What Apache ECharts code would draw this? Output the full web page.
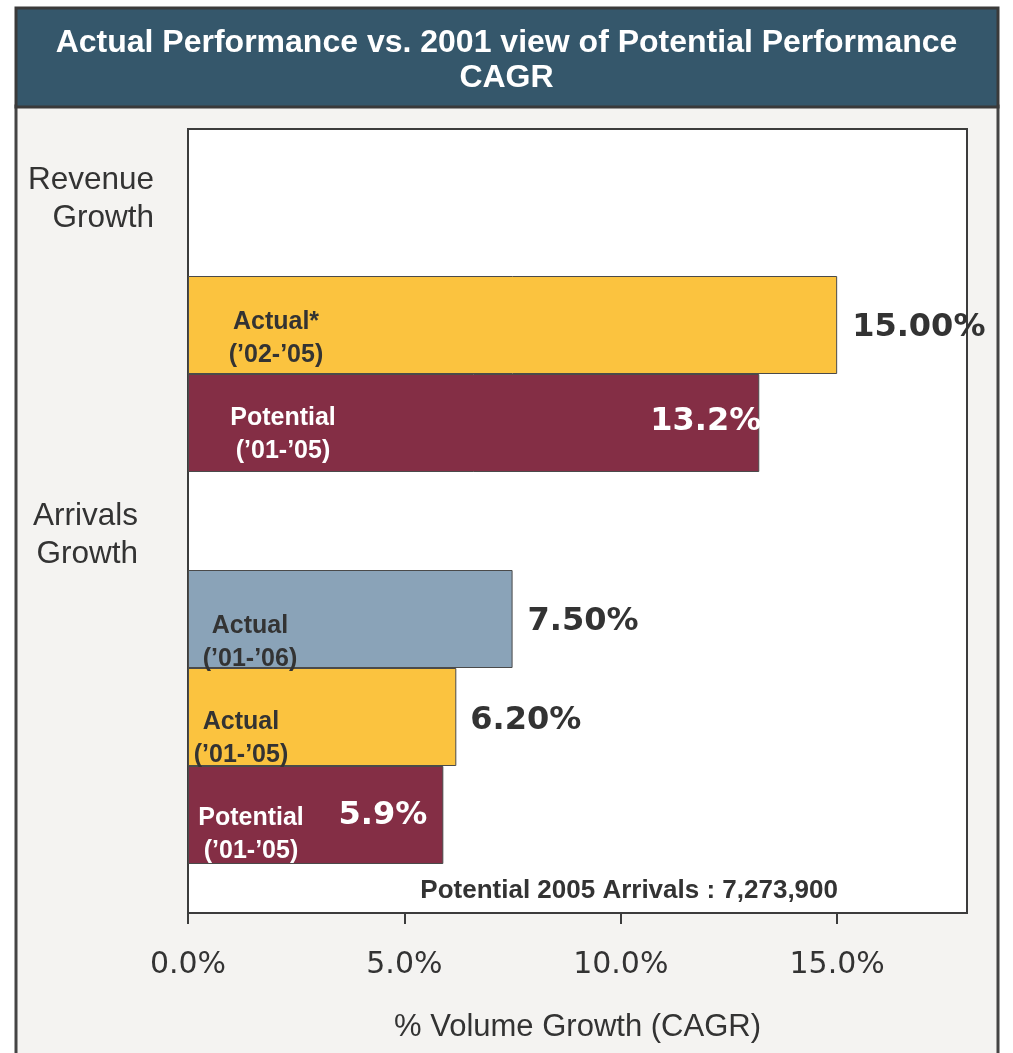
<!DOCTYPE html>
<html>
<head>
<meta charset="utf-8">
<script src="https://cdn.jsdelivr.net/npm/echarts@6/dist/echarts.min.js"></script>
<style>
  html, body { margin: 0; padding: 0; background: #ffffff; overflow: hidden; }
  #chart { width: 1013px; height: 1053px; }
</style>
</head>
<body>
<div id="chart"></div>
<script>
// Category slots down the value axis (top to bottom); empty slots hold the group headings and gaps
const slots = ['Revenue Growth', 'rev-gap', 'Revenue Actual', 'Revenue Potential', 'Arrivals Growth',
  'Arrivals Actual 01-06', 'Arrivals Actual 01-05', 'Arrivals Potential', 'end'];
// Bar names drawn inside each bar
const barNames = [null, null, 'Actual*\n(’02-’05)', 'Potential\n(’01-’05)', null,
  'Actual\n(’01-’06)', 'Actual\n(’01-’05)', 'Potential\n(’01-’05)', null];
// CAGR values in percent
const growthValues = [null, null, 15.00, 13.2, null, 7.50, 6.20, 5.9, null];
// Decimal places printed in each value label
const valueDecimals = [null, null, 2, 1, null, 2, 2, 1, null];
// Group headings
const groupLabels = ['Revenue\nGrowth', 'Arrivals\nGrowth'];
// Value-axis ticks
const xTicks = [0, 5, 10, 15];
const axisTitle = '% Volume Growth (CAGR)';
const chartTitle = 'Actual Performance vs. 2001 view of Potential Performance\nCAGR';
const footNote = 'Potential 2005 Arrivals : 7,273,900';

// Styling per bar (kept apart from the data)
const YELLOW = '#fbc33f', MAROON = '#842e45', STEEL = '#8aa3b8';
const barStyles = [null, null,
  { color: YELLOW, text: '#333333', nameX: 88, nameDy: 14, valPos: 'right', valDist: 15, valDy: 3, valColor: '#333333' },
  { color: MAROON, text: '#ffffff', nameX: 95, nameDy: 12, valPos: 'insideRight', valDist: -2, valDy: -1, valColor: '#ffffff' },
  null,
  { color: STEEL, text: '#333333', nameX: 62, nameDy: 24, valPos: 'right', valDist: 15, valDy: 3, valColor: '#333333' },
  { color: YELLOW, text: '#333333', nameX: 53, nameDy: 22, valPos: 'right', valDist: 14, valDy: 4, valColor: '#333333' },
  { color: MAROON, text: '#ffffff', nameX: 63, nameDy: 20, valPos: 'insideRight', valDist: 16, valDy: 1, valColor: '#ffffff' },
  null];

const SANS = '"Liberation Sans", Arial, Helvetica, sans-serif';
const WIDE = '"DejaVu Sans", Verdana, sans-serif';

const nameData = growthValues.map((v, i) => {
  if (v === null) return '-';
  const s = barStyles[i];
  return {
    value: v,
    itemStyle: { color: s.color, borderColor: '#4a4a4a', borderWidth: 1 },
    label: {
      show: true,
      formatter: barNames[i],
      position: [s.nameX, '50%'],
      offset: [0, s.nameDy],
      align: 'center',
      verticalAlign: 'middle',
      color: s.text,
      fontFamily: SANS,
      fontWeight: 'bold',
      fontSize: 25,
      lineHeight: 33
    }
  };
});

const valueData = growthValues.map((v, i) => {
  if (v === null) return '-';
  const s = barStyles[i];
  return {
    value: v,
    label: {
      show: true,
      formatter: v.toFixed(valueDecimals[i]) + '%',
      position: s.valPos,
      distance: s.valDist,
      offset: [0, s.valDy],
      color: s.valColor,
      fontFamily: WIDE,
      fontWeight: 'bold',
      fontSize: 32
    }
  };
});

const chart = echarts.init(document.getElementById('chart'), null, { renderer: 'canvas' });

chart.setOption({
  backgroundColor: '#ffffff',
  animation: false,
  title: {
    text: chartTitle,
    left: 'center',
    top: 21,
    textStyle: {
      color: '#ffffff',
      fontFamily: '"Liberation Sans Narrow", "Liberation Sans", Arial, sans-serif',
      fontWeight: 'bold',
      fontSize: 32,
      lineHeight: 35
    }
  },
  graphic: [
    {
      type: 'rect', z: -10, silent: true,
      shape: { x: 16, y: 106, width: 982, height: 960 },
      style: { fill: '#f4f3f1', stroke: '#444444', lineWidth: 3 }
    },
    {
      type: 'rect', z: -5, silent: true,
      shape: { x: 16, y: 8, width: 982, height: 99 },
      style: { fill: '#35576b', stroke: '#3a3a3a', lineWidth: 3 }
    },
    {
      type: 'text', silent: true,
      style: {
        text: groupLabels[0], x: 154, y: 199, align: 'right', verticalAlign: 'middle',
        fontFamily: SANS, fontSize: 31.5, lineHeight: 38, fill: '#333333'
      }
    },
    {
      type: 'text', silent: true,
      style: {
        text: groupLabels[1], x: 138, y: 535, align: 'right', verticalAlign: 'middle',
        fontFamily: SANS, fontSize: 31.5, lineHeight: 38, fill: '#333333'
      }
    },
    {
      type: 'text', silent: true,
      style: {
        text: footNote, x: 838, y: 891, align: 'right', verticalAlign: 'middle',
        fontFamily: SANS, fontSize: 26, fontWeight: 'bold', fill: '#333333'
      }
    }
  ],
  grid: {
    left: 188, top: 129, width: 779, height: 784,
    show: true, backgroundColor: '#ffffff', borderColor: '#3c3c3c', borderWidth: 2,
    containLabel: false
  },
  xAxis: {
    type: 'value',
    min: 0, max: 18, interval: 5,
    splitLine: { show: false },
    axisLine: { show: true, lineStyle: { color: '#3c3c3c', width: 2 } },
    axisTick: { show: true, inside: false, length: 11, customValues: xTicks, lineStyle: { color: '#3c3c3c', width: 2 } },
    axisLabel: {
      customValues: xTicks,
      margin: 37,
      color: '#333333',
      fontFamily: WIDE,
      fontSize: 30,
      formatter: v => v.toFixed(1) + '%'
    },
    name: axisTitle,
    nameLocation: 'middle',
    nameGap: 99,
    nameTextStyle: { color: '#333333', fontFamily: SANS, fontSize: 31 }
  },
  yAxis: {
    type: 'category',
    data: slots,
    inverse: true,
    boundaryGap: false,
    axisLine: { show: false },
    axisTick: { show: false },
    axisLabel: { show: false },
    splitLine: { show: false }
  },
  series: [
    {
      type: 'bar',
      name: 'bars',
      data: nameData,
      barWidth: '100%',
      barGap: '-100%',
      z: 2
    },
    {
      type: 'bar',
      name: 'values',
      data: valueData,
      barWidth: '100%',
      barGap: '-100%',
      itemStyle: { color: 'rgba(0,0,0,0)' },
      silent: true,
      z: 3
    }
  ]
});
</script>
</body>
</html>
